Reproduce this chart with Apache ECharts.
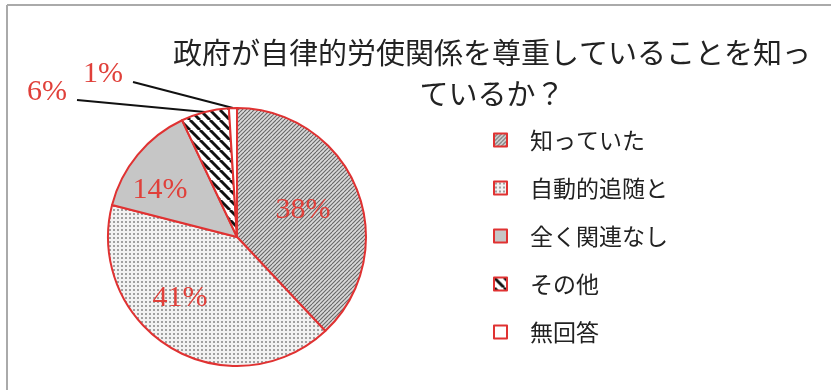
<!DOCTYPE html>
<html>
<head>
<meta charset="utf-8">
<script src="https://cdn.jsdelivr.net/npm/echarts@6/dist/echarts.min.js"></script>
<style>
html,body{margin:0;padding:0;background:#fff;}
#chart{width:831px;height:390px;}
</style>
</head>
<body>
<div id="chart"></div>
<script>
const titleText = '政府が自律的労使関係を尊重していることを知っ\nているか？';
const categories = ['知っていた', '自動的追随と', '全く関連なし', 'その他', '無回答'];
const values = [38, 41, 14, 6, 1];

// label placement (layout config, not data)
const labelSpots = [[303, 210], [180, 298], [160, 190], [47, 92], [103, 74]];
const lineEnds = [null, null, null, [77, 100], [133, 82]];

function makeCanvas(n, draw) {
  const c = document.createElement('canvas');
  c.width = n; c.height = n;
  const ctx = c.getContext('2d');
  draw(ctx, n);
  return c;
}
const pHatch = makeCanvas(8, (ctx, n) => {
  ctx.fillStyle = '#dadada'; ctx.fillRect(0, 0, n, n);
  ctx.strokeStyle = '#666666'; ctx.lineWidth = 1.1;
  for (let x0 = -8; x0 <= 16; x0 += 4) {
    ctx.beginPath(); ctx.moveTo(x0, n); ctx.lineTo(x0 + n, 0); ctx.stroke();
  }
});
const pDots = makeCanvas(4, (ctx, n) => {
  ctx.fillStyle = '#f2f2f2'; ctx.fillRect(0, 0, n, n);
  ctx.fillStyle = '#a0a0a0'; ctx.fillRect(1, 1, 2, 2);
});
const pStripe = makeCanvas(10, (ctx, n) => {
  ctx.fillStyle = '#ffffff'; ctx.fillRect(0, 0, n, n);
  ctx.strokeStyle = '#111'; ctx.lineWidth = 3;
  for (let x0 = -10; x0 <= 20; x0 += 10) {
    ctx.beginPath(); ctx.moveTo(x0, 0); ctx.lineTo(x0 + n, n); ctx.stroke();
  }
});
const fills = [
  { image: pHatch, repeat: 'repeat' },
  { image: pDots, repeat: 'repeat' },
  '#c6c6c6',
  { image: pStripe, repeat: 'repeat' },
  '#ffffff'
];

const pieData = categories.map((name, i) => {
  const outside = i >= 3;
  return {
    name: name,
    value: values[i],
    itemStyle: { color: fills[i] },
    label: { position: outside ? 'outside' : 'inside' },
    labelLine: { show: outside }
  };
});

const chart = echarts.init(document.getElementById('chart'), null, { renderer: 'canvas' });
chart.setOption({
  animation: false,
  backgroundColor: '#ffffff',
  graphic: [
    { type: 'line', shape: { x1: 7, y1: 5, x2: 831, y2: 5 }, style: { stroke: '#aaaaaa', lineWidth: 2 } },
    { type: 'line', shape: { x1: 7, y1: 5, x2: 7, y2: 390 }, style: { stroke: '#aaaaaa', lineWidth: 2 } },
    {
      type: 'text', x: 492, y: 32,
      style: {
        text: titleText, textAlign: 'center', textVerticalAlign: 'top',
        font: '29px "Noto Sans CJK JP"', fill: '#222222', lineHeight: 41
      }
    }
  ],
  legend: {
    orient: 'vertical',
    left: 488,
    top: 123,
    itemWidth: 13,
    itemHeight: 13,
    itemGap: 24,
    icon: 'rect',
    textStyle: {
      fontFamily: 'Noto Sans CJK JP', fontSize: 23, color: '#222222',
      lineHeight: 24, padding: [0, 0, 0, 18]
    },
    data: categories
  },
  series: [{
    type: 'pie',
    center: [237, 237],
    radius: 129,
    startAngle: 90,
    clockwise: true,
    avoidLabelOverlap: false,
    itemStyle: { borderColor: '#e03232', borderWidth: 2 },
    label: {
      show: true,
      formatter: '{c}%',
      fontFamily: '"Liberation Serif", serif',
      fontSize: 30,
      color: '#e0403a'
    },
    labelLine: { lineStyle: { color: '#111111', width: 2 } },
    labelLayout: function (p) {
      const i = p.dataIndex;
      const s = labelSpots[i];
      const out = { x: s[0], y: s[1], align: 'center', verticalAlign: 'middle' };
      if (lineEnds[i] && p.labelLinePoints) {
        const a = p.labelLinePoints[0];
        out.labelLinePoints = [a, lineEnds[i], lineEnds[i]];
      }
      return out;
    },
    data: pieData
  }]
});
</script>
</body>
</html>
